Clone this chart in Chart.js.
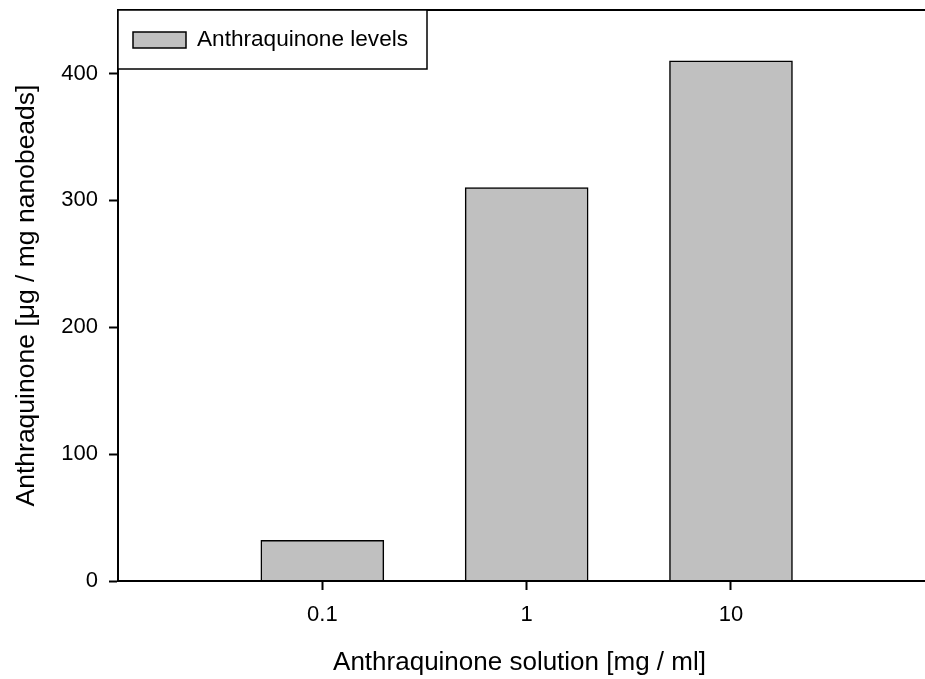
<!DOCTYPE html>
<html>
<head>
<meta charset="utf-8">
<title>Anthraquinone levels</title>
<script src="https://cdn.jsdelivr.net/npm/chart.js@4.4.1/dist/chart.umd.min.js"></script>
<style>
  html, body { margin: 0; padding: 0; background: #fff; overflow: hidden; }
  #wrap { width: 925px; height: 679px; }
</style>
</head>
<body>
<div id="wrap"><canvas id="chart" width="925" height="679"></canvas></div>
<script>
const categories = ['0.1', '1', '10'];
const levels = [32, 310, 410];
const yTicks = [0, 100, 200, 300, 400];
const seriesLabel = 'Anthraquinone levels';
const xTitle = 'Anthraquinone solution [mg / ml]';
const yTitle = 'Anthraquinone [\u03bcg / mg nanobeads]';

const FONT = '"Liberation Sans", Arial, sans-serif';
const BAR_FILL = '#c0c0c0';

// bars sit at x = 1, 2, 3 on a linear axis
const points = categories.map((c, i) => ({ x: i + 1, y: levels[i] }));

// top frame line, bottom line run to the canvas edge, and the boxed legend
const framePlugin = {
  id: 'frame',
  afterDraw(chart) {
    const { ctx, chartArea: a, width } = chart;
    ctx.save();
    ctx.strokeStyle = '#000';
    ctx.lineWidth = 2;
    ctx.beginPath();
    ctx.moveTo(a.left, a.top);
    ctx.lineTo(width, a.top);
    ctx.moveTo(a.left - 1, a.bottom);
    ctx.lineTo(width, a.bottom);
    ctx.stroke();

    // legend box
    const bx = a.left, by = a.top, bw = 309, bh = 59;
    ctx.fillStyle = '#fff';
    ctx.fillRect(bx, by, bw, bh);
    ctx.lineWidth = 1.5;
    ctx.strokeRect(bx, by, bw, bh);
    ctx.fillStyle = BAR_FILL;
    ctx.fillRect(133, 32, 53, 16);
    ctx.strokeRect(133, 32, 53, 16);
    ctx.fillStyle = '#000';
    ctx.font = '22.6px ' + FONT;
    ctx.textBaseline = 'middle';
    ctx.textAlign = 'left';
    ctx.fillText(chart.data.datasets[0].label, 197, 40);
    ctx.restore();
  }
};

new Chart(document.getElementById('chart'), {
  type: 'bar',
  data: {
    datasets: [{
      label: seriesLabel,
      data: points,
      backgroundColor: BAR_FILL,
      borderColor: '#000',
      borderWidth: 1.5,
      borderSkipped: 'bottom',
      barThickness: 123,
    }],
  },
  options: {
    responsive: false,
    animation: false,
    layout: { padding: { top: 10, right: 4, left: 0, bottom: 0 } },
    plugins: {
      legend: { display: false },
      tooltip: { enabled: false },
    },
    scales: {
      x: {
        type: 'linear',
        min: 0,
        max: 3.93,
        offset: false,
        border: { display: false },
        grid: {
          offset: false,
          drawOnChartArea: false,
          drawTicks: true,
          tickLength: 9,
          tickWidth: 2,
          tickColor: '#000',
        },
        afterBuildTicks: axis => {
          axis.ticks = categories.map((c, i) => ({ value: i + 1 }));
        },
        afterFit: axis => {
          axis.height = 98;
          axis.paddingLeft = 0;
          axis.paddingRight = 0;
        },
        ticks: {
          color: '#000',
          font: { family: FONT, size: 22 },
          padding: 12,
          maxRotation: 0,
          callback: v => categories[v - 1],
        },
        title: {
          display: true,
          text: xTitle,
          color: '#000',
          font: { family: FONT, size: 26 },
          padding: { top: 0, bottom: 1 },
        },
      },
      y: {
        min: 0,
        max: 450,
        border: { display: true, color: '#000', width: 2 },
        grid: {
          drawOnChartArea: false,
          drawTicks: true,
          tickLength: 9,
          tickWidth: 2,
          tickColor: '#000',
        },
        afterBuildTicks: axis => {
          axis.ticks = yTicks.map(v => ({ value: v }));
        },
        afterFit: axis => {
          axis.width = 118;
          axis.paddingTop = 0;
          axis.paddingBottom = 0;
        },
        ticks: {
          color: '#000',
          font: { family: FONT, size: 22 },
          padding: 11,
        },
        title: {
          display: true,
          text: yTitle,
          color: '#000',
          font: { family: FONT, size: 26.5 },
          padding: { top: 11, bottom: 0 },
        },
      },
    },
  },
  plugins: [framePlugin],
});
</script>
</body>
</html>
